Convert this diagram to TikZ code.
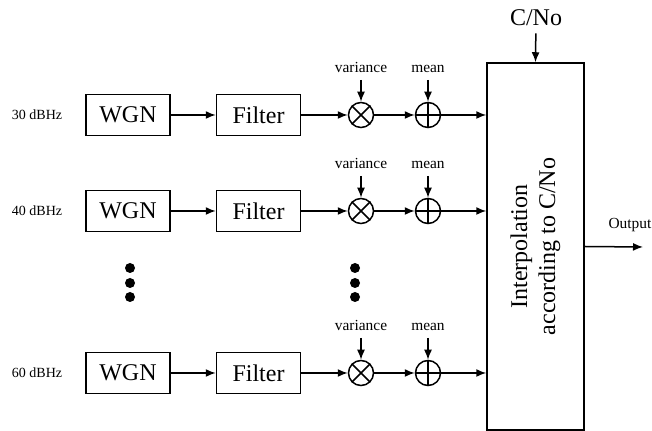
\documentclass[tikz,border=0pt]{standalone}
\usepackage{fontspec}
\setmainfont{Liberation Serif}
\usetikzlibrary{arrows.meta}

\begin{document}
\begin{tikzpicture}[x=0.5pt,y=-0.5pt,line width=0.75pt,
  >={Latex[length=5pt,width=4pt]},
  block/.style={draw,minimum width=42pt,minimum height=20.5pt,inner sep=0pt,
    font=\fontsize{12}{14}\selectfont},
  opnode/.style={draw,circle,minimum size=12.5pt,inner sep=0pt},
  rate/.style={font=\fontsize{7}{8}\selectfont},
  param/.style={inner sep=2pt,text height=1.5ex,text depth=0.25ex,
    font=\fontsize{7.7}{9}\selectfont},
  bigdot/.style={fill,circle,inner sep=0pt,minimum size=5pt}]
\useasboundingbox (0,0) rectangle (652,431);

% interpolation block
\node[draw,minimum width=48.5pt,minimum height=183.5pt,inner sep=0pt] (interp) at (535.5,246.5) {};
\node[rotate=90,align=center,font=\fontsize{12}{14}\selectfont] (interptext) at (interp.center) {Interpolation\\according to C/No};
\node[font=\fontsize{12}{14}\selectfont] (cno) at (536,18) {C/No};
\draw[->] (cno) -- (interp.north);
\coordinate (out) at (643,247);
\draw[->] (interp.east) -- (out);
\node[param] (outlbl) at (630,223) {Output};

% 30 dBHz
\node[rate] (r1) at (37,115) {30 dBHz};
\node[block] (wgn1) at (128,115) {WGN};
\node[block] (filt1) at (258.5,115) {Filter};
\node[opnode] (mul1) at (361,115) {};
\node[opnode] (add1) at (428,115) {};
\node[param] (var1) at (361,67) {variance};
\node[param] (mean1) at (428,67) {mean};
\draw[->] (wgn1) -- (filt1);
\draw[->] (filt1) -- (mul1);
\draw[->] (mul1) -- (add1);
\draw[->] (add1) -- (add1 -| interp.west);
\draw[->] (var1) -- (mul1);
\draw[->] (mean1) -- (add1);
\draw (mul1.45) -- (mul1.225) (mul1.135) -- (mul1.315);
\draw (add1.north) -- (add1.south) (add1.west) -- (add1.east);

% 40 dBHz
\node[rate] (r2) at (37,211) {40 dBHz};
\node[block] (wgn2) at (128,211) {WGN};
\node[block] (filt2) at (258.5,211) {Filter};
\node[opnode] (mul2) at (361,211) {};
\node[opnode] (add2) at (428,211) {};
\node[param] (var2) at (361,163) {variance};
\node[param] (mean2) at (428,163) {mean};
\draw[->] (wgn2) -- (filt2);
\draw[->] (filt2) -- (mul2);
\draw[->] (mul2) -- (add2);
\draw[->] (add2) -- (add2 -| interp.west);
\draw[->] (var2) -- (mul2);
\draw[->] (mean2) -- (add2);
\draw (mul2.45) -- (mul2.225) (mul2.135) -- (mul2.315);
\draw (add2.north) -- (add2.south) (add2.west) -- (add2.east);

% dots
\node[bigdot] (dl1) at (130,268) {};
\node[bigdot] (dl2) at (130,283) {};
\node[bigdot] (dl3) at (130,297) {};
\node[bigdot] (dr1) at (355,268) {};
\node[bigdot] (dr2) at (355,283) {};
\node[bigdot] (dr3) at (355,297) {};

% 60 dBHz
\node[rate] (r3) at (37,373) {60 dBHz};
\node[block] (wgn3) at (128,373) {WGN};
\node[block] (filt3) at (258.5,373) {Filter};
\node[opnode] (mul3) at (361,373) {};
\node[opnode] (add3) at (428,373) {};
\node[param] (var3) at (361,325) {variance};
\node[param] (mean3) at (428,325) {mean};
\draw[->] (wgn3) -- (filt3);
\draw[->] (filt3) -- (mul3);
\draw[->] (mul3) -- (add3);
\draw[->] (add3) -- (add3 -| interp.west);
\draw[->] (var3) -- (mul3);
\draw[->] (mean3) -- (add3);
\draw (mul3.45) -- (mul3.225) (mul3.135) -- (mul3.315);
\draw (add3.north) -- (add3.south) (add3.west) -- (add3.east);
\end{tikzpicture}
\end{document}
